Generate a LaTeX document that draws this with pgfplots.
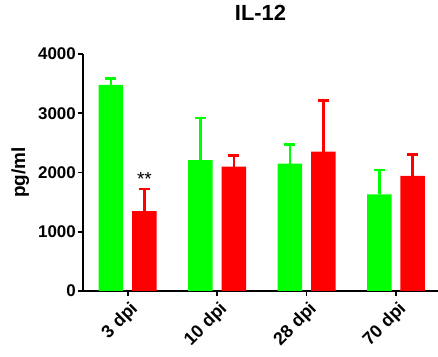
\documentclass[border=0pt]{standalone}
\usepackage{pgfplots}
\pgfplotsset{compat=1.18}
\usepackage{fontspec}
\setmainfont{Liberation Sans}
\definecolor{cgreen}{RGB}{0,255,0}
\definecolor{cred}{RGB}{255,0,0}
\pgfplotstableread{
x y e
-0.187 3480 105
0.813 2210 713
1.813 2150 320
2.813 1632 410
}\greendata
\pgfplotstableread{
x y e
0.187 1350 372
1.187 2098 192
2.187 2352 866
3.187 1941 359
}\reddata
\begin{document}
\begin{tikzpicture}
\path[use as bounding box] (-83bp,-66bp) rectangle (355bp,291bp);
\begin{axis}[
 scale only axis, width=355bp, height=237bp,
 xmin=-0.5, xmax=3.47, ymin=0, ymax=4000,
 axis x line*=bottom, axis y line*=left,
 axis line style={line width=1.8bp, -},
 ytick={0,1000,2000,3000,4000},
 xtick={0,1,2,3}, xticklabels={3 dpi,10 dpi,28 dpi,70 dpi},
 tick align=outside, major tick length=5bp,
 tick style={line width=1.8bp, black},
 /pgf/number format/assume math mode=true,
 /pgf/number format/set thousands separator={},
 yticklabel style={font=\bfseries\fontsize{17}{20}\selectfont, inner sep=2bp},
 xticklabel style={rotate=45, anchor=north east, inner sep=2bp, yshift=-2bp, font=\bfseries\fontsize{18}{21}\selectfont},
 title={IL-12},
 title style={font=\bfseries\fontsize{22}{24}\selectfont, at={(axis description cs:0.5,1)}, anchor=center, yshift=35bp},
 ylabel={pg/ml},
 ylabel style={font=\bfseries\fontsize{19}{21}\selectfont, at={(axis description cs:-0.177,0.5)}, anchor=center},
]
\addplot[ybar, bar width=24.5bp, bar shift=0pt, fill=cgreen, draw=none,
  error bars/.cd, y dir=plus, y explicit,
  error bar style={line width=2.6bp, cgreen},
  error mark options={rotate=90, mark size=5.5bp, line width=2.6bp, cgreen}]
  table[x=x, y=y, y error=e] {\greendata};
\addplot[ybar, bar width=24.5bp, bar shift=0pt, fill=cred, draw=none,
  error bars/.cd, y dir=plus, y explicit,
  error bar style={line width=2.6bp, cred},
  error mark options={rotate=90, mark size=5.5bp, line width=2.6bp, cred}]
  table[x=x, y=y, y error=e] {\reddata};
\node[font=\fontsize{19}{20}\selectfont, anchor=north, inner sep=0pt] at (axis cs:0.187,1997) {**};
\end{axis}
\end{tikzpicture}
\end{document}
